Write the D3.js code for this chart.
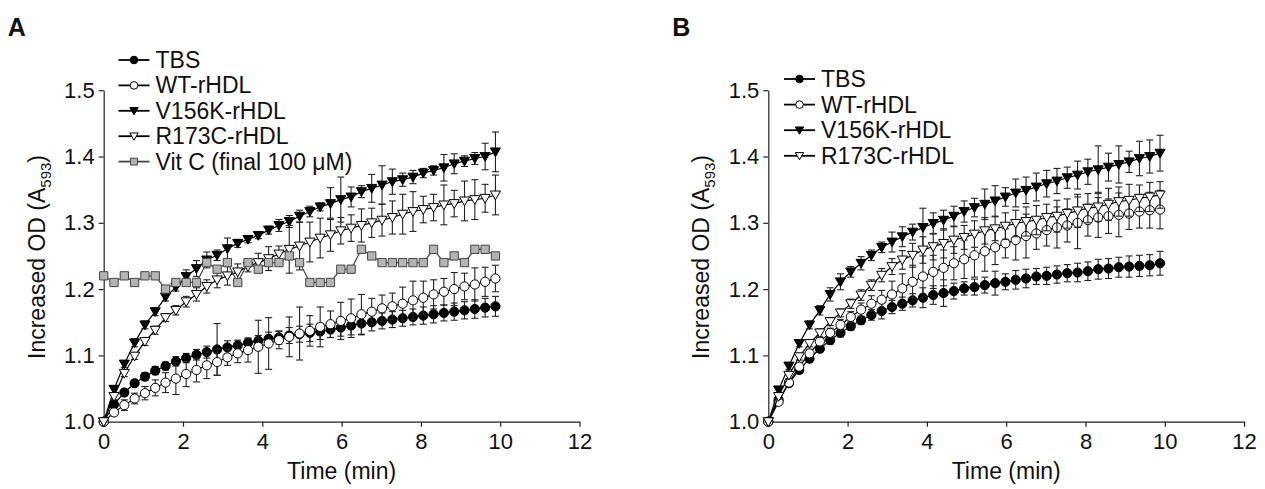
<!DOCTYPE html>
<html>
<head>
<meta charset="utf-8">
<script src="https://cdn.jsdelivr.net/npm/d3@7"></script>
<style>
  body { margin: 0; background: #fff; }
  text { font-family: "Liberation Sans", Arial, sans-serif; fill: #111; }
</style>
</head>
<body>
<svg width="1265" height="489"></svg>
<script>
// sampling times (min)
const times = [0,0.26,0.52,0.78,1.04,1.3,1.56,1.82,2.08,2.34,2.6,2.86,3.12,3.38,3.64,3.9,4.16,4.42,4.68,4.94,
  5.2,5.46,5.72,5.98,6.24,6.5,6.76,7.02,7.28,7.54,7.8,8.06,8.32,8.58,8.84,9.1,9.36,9.62,9.88];
const xTicks = [0,2,4,6,8,10,12];
const yTicks = [1.0,1.1,1.2,1.3,1.4,1.5];

// panel A
const tbsA = [1.0,1.026,1.044,1.058,1.068,1.077,1.084,1.091,1.096,1.101,1.105,1.109,1.112,1.115,1.119,1.122,1.125,1.127,1.13,1.132,
  1.134,1.136,1.139,1.142,1.145,1.148,1.15,1.152,1.154,1.156,1.158,1.16,1.162,1.164,1.166,1.168,1.17,1.172,1.174];
const tbsAErr = [0,.004,.005,.005,.006,.006,.006,.007,.007,.008,.009,.039,.01,.008,.007,.008,.01,.01,.012,.012,
  .013,.012,.012,.013,.014,.017,.013,.012,.012,.012,.012,.013,.013,.012,.013,.013,.014,.014,.015];
const wtA = [1.0,1.014,1.025,1.035,1.043,1.051,1.059,1.065,1.072,1.078,1.085,1.09,1.097,1.103,1.108,1.113,1.118,1.123,1.128,1.133,
  1.137,1.143,1.147,1.152,1.156,1.162,1.166,1.171,1.174,1.178,1.183,1.187,1.192,1.196,1.2,1.204,1.207,1.211,1.216];
const wtAErr = [0,.005,.008,.008,.01,.012,.015,.024,.019,.018,.02,.02,.012,.014,.018,.04,.039,.013,.03,.04,
  .023,.03,.02,.028,.029,.03,.02,.02,.02,.025,.029,.025,.022,.02,.025,.02,.025,.022,.02];
const v156A = [1.0,1.049,1.087,1.119,1.146,1.166,1.188,1.203,1.219,1.231,1.244,1.251,1.261,1.269,1.275,1.281,1.289,1.296,1.302,1.31,
  1.317,1.324,1.329,1.335,1.339,1.347,1.352,1.357,1.362,1.365,1.369,1.375,1.379,1.383,1.389,1.393,1.397,1.4,1.407];
const v156AErr = [0,.005,.005,.006,.006,.006,.006,.006,.01,.012,.012,.008,.016,.006,.005,.005,.006,.009,.009,.009,
  .008,.006,.024,.034,.015,.009,.021,.029,.019,.01,.01,.007,.007,.02,.015,.008,.009,.02,.03];
const r173A = [1.0,1.038,1.073,1.099,1.121,1.138,1.157,1.168,1.181,1.192,1.204,1.214,1.22,1.226,1.234,1.24,1.246,1.253,1.26,1.265,
  1.271,1.277,1.282,1.288,1.292,1.296,1.3,1.304,1.308,1.313,1.317,1.32,1.323,1.327,1.329,1.333,1.335,1.337,1.342];
const r173AErr = [0,.005,.005,.005,.006,.006,.006,.007,.008,.01,.01,.012,.014,.012,.008,.014,.018,.012,.036,.036,
  .03,.03,.025,.02,.02,.025,.022,.024,.025,.03,.03,.02,.02,.03,.02,.03,.03,.021,.03];
const vitC = [1.22,1.21,1.22,1.21,1.22,1.22,1.20,1.21,1.21,1.21,1.24,1.23,1.24,1.21,1.24,1.23,1.24,1.24,1.25,1.24,
  1.21,1.21,1.21,1.23,1.23,1.26,1.25,1.24,1.24,1.24,1.24,1.24,1.26,1.24,1.25,1.24,1.26,1.26,1.25];

// panel B
const tbsB = [1.0,1.033,1.058,1.078,1.095,1.11,1.123,1.134,1.144,1.153,1.161,1.167,1.173,1.178,1.183,1.187,1.191,1.194,1.197,1.201,
  1.203,1.206,1.209,1.211,1.214,1.216,1.219,1.22,1.222,1.224,1.225,1.227,1.23,1.231,1.233,1.234,1.235,1.236,1.239];
const tbsBErr = [0,.004,.004,.005,.005,.005,.006,.006,.006,.006,.008,.012,.01,.01,.01,.015,.014,.02,.012,.01,
  .012,.012,.018,.012,.014,.014,.012,.013,.013,.013,.014,.014,.015,.015,.015,.016,.016,.016,.018];
const wtB = [1.0,1.03,1.059,1.083,1.103,1.121,1.134,1.146,1.158,1.169,1.178,1.184,1.192,1.201,1.211,1.219,1.226,1.232,1.239,1.245,
  1.251,1.257,1.263,1.269,1.274,1.28,1.284,1.289,1.293,1.296,1.3,1.304,1.308,1.31,1.312,1.314,1.317,1.319,1.32];
const wtBErr = [0,.004,.005,.005,.006,.006,.007,.008,.008,.01,.012,.014,.02,.022,.025,.031,.025,.027,.025,.029,
  .033,.03,.026,.022,.03,.033,.024,.024,.031,.025,.039,.024,.03,.026,.033,.024,.025,.027,.029];
const v156B = [1.0,1.048,1.084,1.118,1.146,1.168,1.192,1.211,1.226,1.239,1.251,1.263,1.271,1.279,1.286,1.293,1.299,1.304,1.31,1.317,
  1.323,1.328,1.333,1.339,1.345,1.349,1.354,1.359,1.363,1.368,1.372,1.377,1.38,1.384,1.388,1.392,1.397,1.4,1.405];
const v156BErr = [0,.004,.005,.005,.006,.007,.01,.012,.008,.01,.008,.008,.015,.015,.012,.029,.016,.015,.015,.016,
  .014,.023,.023,.014,.021,.02,.021,.02,.019,.016,.021,.019,.036,.021,.028,.016,.026,.025,.027];
const r173B = [1.0,1.038,1.07,1.098,1.118,1.134,1.151,1.164,1.178,1.191,1.206,1.221,1.234,1.244,1.251,1.259,1.264,1.269,1.274,1.278,
  1.283,1.288,1.291,1.295,1.299,1.302,1.304,1.308,1.31,1.314,1.318,1.322,1.324,1.328,1.332,1.334,1.337,1.339,1.342];
const r173BErr = [0,.004,.005,.005,.005,.006,.006,.006,.007,.008,.008,.01,.012,.014,.018,.02,.02,.022,.02,.018,
  .02,.02,.018,.02,.02,.022,.022,.02,.024,.022,.025,.022,.022,.024,.022,.024,.02,.022,.02];

const svg = d3.select("svg");

function markerPath(shape, s) {
  if (shape == "circle") return d3.symbol(d3.symbolCircle, Math.PI * s * s)();
  if (shape == "tri") return "M" + (-s * 1.1) + "," + (-s * 0.85) + "L" + (s * 1.1) + "," + (-s * 0.85) + "L0," + (s * 1.05) + "Z";
  return "M" + (-s * 0.9) + "," + (-s * 0.9) + "h" + (s * 1.8) + "v" + (s * 1.8) + "h" + (-s * 1.8) + "Z";
}

function drawPanel(cfg) {
  let g = svg.append("g");
  let x = d3.scaleLinear().domain([0, 12]).range([cfg.x0, cfg.x0 + 475.8]);
  let y = d3.scaleLinear().domain([1.0, 1.5]).range([421.7, 90.2]);

  // axes
  let xa = g.append("g").attr("transform", "translate(0,421.7)")
    .call(d3.axisBottom(x).tickValues(xTicks).tickSize(5).tickSizeOuter(0).tickPadding(7).tickFormat(d3.format("d")));
  let ya = g.append("g").attr("transform", "translate(" + cfg.x0 + ",0)")
    .call(d3.axisLeft(y).tickValues(yTicks).tickSize(5).tickSizeOuter(0).tickPadding(4).tickFormat(d3.format(".1f")));
  [xa, ya].forEach(function(a) {
    a.selectAll("text").style("font-size", "22px").attr("fill", "#111");
    a.selectAll("line, path").attr("stroke", "#222").attr("stroke-width", 1.2);
  });

  g.append("text").attr("x", cfg.x0 + 237.9).attr("y", 479).attr("text-anchor", "middle")
    .style("font-size", "23px").text("Time (min)");

  let yl = g.append("text").attr("transform", "translate(" + (cfg.x0 - 59) + ",257) rotate(-90)")
    .attr("text-anchor", "middle").style("font-size", "23px");
  yl.append("tspan").text("Increased OD (A");
  yl.append("tspan").attr("dy", 6).style("font-size", "15px").text("593");
  yl.append("tspan").attr("dy", -6).text(")");

  g.append("text").attr("x", cfg.x0 - 96).attr("y", 36).style("font-size", "25px")
    .style("font-weight", "bold").text(cfg.letter);

  // series
  cfg.series.forEach(function(s) {
    let pts = times.map(function(t, i) { return {t: t, v: s.values[i], e: s.err ? s.err[i] : 0}; });
    let sg = g.append("g");
    if (s.err) {
      let eb = sg.selectAll(".eb").data(pts.filter(function(d) { return d.e > 0; })).enter().append("g")
        .attr("stroke", "#222").attr("stroke-width", 1.1);
      eb.append("line").attr("x1", function(d) { return x(d.t); }).attr("x2", function(d) { return x(d.t); })
        .attr("y1", function(d) { return y(d.v - d.e); }).attr("y2", function(d) { return y(d.v + d.e); });
      eb.append("line").attr("x1", function(d) { return x(d.t) - 3.5; }).attr("x2", function(d) { return x(d.t) + 3.5; })
        .attr("y1", function(d) { return y(d.v + d.e); }).attr("y2", function(d) { return y(d.v + d.e); });
      eb.append("line").attr("x1", function(d) { return x(d.t) - 3.5; }).attr("x2", function(d) { return x(d.t) + 3.5; })
        .attr("y1", function(d) { return y(d.v - d.e); }).attr("y2", function(d) { return y(d.v - d.e); });
    }
    sg.append("path").datum(pts)
      .attr("fill", "none").attr("stroke", s.line).attr("stroke-width", 1.2)
      .attr("d", d3.line().x(function(d) { return x(d.t); }).y(function(d) { return y(d.v); }));
    sg.selectAll(".mk").data(pts).enter().append("path")
      .attr("transform", function(d) { return "translate(" + x(d.t) + "," + y(d.v) + ")"; })
      .attr("d", markerPath(s.shape, 4.6))
      .attr("fill", s.fill).attr("stroke", s.stroke).attr("stroke-width", 1);
  });

  // legend
  cfg.series.forEach(function(s, i) {
    let ly = cfg.legY + i * cfg.legStep;
    let lg = g.append("g");
    lg.append("line").attr("x1", cfg.legX).attr("x2", cfg.legX + 31).attr("y1", ly).attr("y2", ly)
      .attr("stroke", s.line).attr("stroke-width", 1.8);
    lg.append("path").attr("transform", "translate(" + (cfg.legX + 15.5) + "," + ly + ")")
      .attr("d", markerPath(s.shape, 3.8)).attr("fill", s.fill).attr("stroke", s.stroke).attr("stroke-width", 1);
    lg.append("text").attr("x", cfg.legX + 37).attr("y", ly + 8).style("font-size", "23px").text(s.name);
  });
}

drawPanel({
  letter: "A", x0: 103.7, legX: 118.5, legY: 60, legStep: 25.4,
  series: [
    {name: "TBS", values: tbsA, err: tbsAErr, shape: "circle", fill: "#000", stroke: "#000", line: "#000"},
    {name: "WT-rHDL", values: wtA, err: wtAErr, shape: "circle", fill: "#fff", stroke: "#000", line: "#000"},
    {name: "V156K-rHDL", values: v156A, err: v156AErr, shape: "tri", fill: "#000", stroke: "#000", line: "#000"},
    {name: "R173C-rHDL", values: r173A, err: r173AErr, shape: "tri", fill: "#fff", stroke: "#000", line: "#000"},
    {name: "Vit C (final 100 \u03bcM)", values: vitC, err: null, shape: "square", fill: "#b4b4b4", stroke: "#444", line: "#444"}
  ]
});

drawPanel({
  letter: "B", x0: 768.3, legX: 784, legY: 79, legStep: 25.6,
  series: [
    {name: "TBS", values: tbsB, err: tbsBErr, shape: "circle", fill: "#000", stroke: "#000", line: "#000"},
    {name: "WT-rHDL", values: wtB, err: wtBErr, shape: "circle", fill: "#fff", stroke: "#000", line: "#000"},
    {name: "V156K-rHDL", values: v156B, err: v156BErr, shape: "tri", fill: "#000", stroke: "#000", line: "#000"},
    {name: "R173C-rHDL", values: r173B, err: r173BErr, shape: "tri", fill: "#fff", stroke: "#000", line: "#000"}
  ]
});
</script>
</body>
</html>
